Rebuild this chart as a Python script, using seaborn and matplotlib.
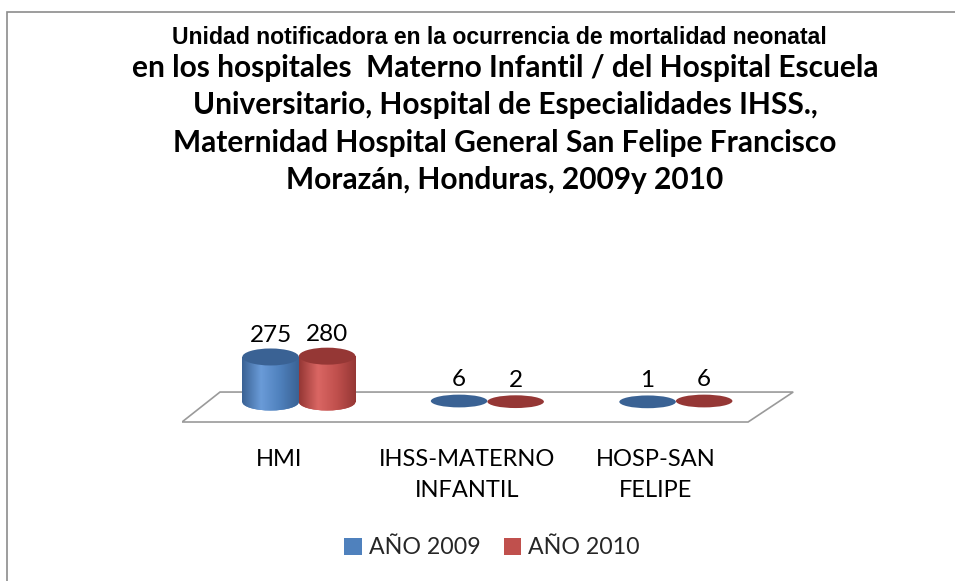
import numpy as np
import pandas as pd
import matplotlib
matplotlib.use("Agg")
import matplotlib.pyplot as plt
import seaborn as sns
from matplotlib.patches import Ellipse, Polygon, Rectangle, Patch
from matplotlib.colors import LinearSegmentedColormap
import matplotlib.transforms as mtransforms

# ---- data ----
categories = ["HMI", "IHSS-MATERNO\nINFANTIL", "HOSP-SAN\nFELIPE"]
series_names = ["AÑO 2009", "AÑO 2010"]
values_2009 = [275, 6, 1]
values_2010 = [280, 2, 6]

title_line1 = "Unidad notificadora en la ocurrencia de mortalidad neonatal"
title_rest = ("en los hospitales  Materno Infantil / del Hospital Escuela\n"
              "Universitario, Hospital de Especialidades IHSS.,\n"
              "Maternidad Hospital General San Felipe Francisco\n"
              "Morazán, Honduras, 2009y 2010")

df = pd.DataFrame({
    "cat": categories * 2,
    "serie": [series_names[0]] * 3 + [series_names[1]] * 3,
    "val": values_2009 + values_2010,
})

sns.set_theme(style="white")
plt.rcParams["font.family"] = ["Lato", "DejaVu Sans"]
CAL = ["Lato", "DejaVu Sans"]

body_colors = {"AÑO 2009": "#4F81BD", "AÑO 2010": "#C0504D"}
dark_colors = {"AÑO 2009": "#3A6294", "AÑO 2010": "#953735"}
light_colors = {"AÑO 2009": "#6A9BD8", "AÑO 2010": "#DA6663"}

W, H = 955, 581
fig = plt.figure(figsize=(W / 100, H / 100), dpi=100)
fig.patch.set_facecolor("white")

# outer chart frame
fig.add_artist(Rectangle((7 / W, -0.01), 1.05, 1 - 12 / H + 0.01,
                         transform=fig.transFigure, fill=False,
                         edgecolor="#8C8C8C", linewidth=1.2))

ax_l, ax_r, ax_t, ax_b = 182, 800, 300, 430
ax = fig.add_axes([ax_l / W, 1 - ax_b / H, (ax_r - ax_l) / W, (ax_b - ax_t) / H])
ax.set_facecolor("none")

sns.barplot(data=df, x="cat", y="val", hue="serie", order=categories,
            hue_order=series_names, palette=body_colors, width=0.6,
            saturation=1, ax=ax, legend=False, zorder=3)

ax.set_xlim(-0.62, -0.62 + (ax_r - ax_l) / 188.5)
ax.set_ylim(-171, 623)
px_per_y = (ax_b - ax_t) / (623 + 171)

# floor parallelogram (axes coordinates)
floor = Polygon([(0, 0.0615), (0.0615, 0.292), (0.989, 0.292), (0.916, 0.0615)],
                closed=True, transform=ax.transAxes, facecolor="white",
                edgecolor="#9A9A9A", linewidth=1.2, zorder=1)
ax.add_patch(floor)

ell_h = 17 / px_per_y
grad = np.linspace(0, 1, 200).reshape(1, -1)

for container, name in zip(ax.containers, series_names):
    cmap = LinearSegmentedColormap.from_list(
        name, [dark_colors[name], light_colors[name], body_colors[name], dark_colors[name]])
    for bar in container:
        x0, w, h = bar.get_x(), bar.get_width(), bar.get_height()
        cx = x0 + w / 2
        if h > 20:
            bar.set_edgecolor("none")
            bot = Ellipse((cx, 0), w, ell_h, facecolor=body_colors[name],
                          edgecolor="none", zorder=2.9)
            ax.add_patch(bot)
            im = ax.imshow(grad, cmap=cmap, aspect="auto",
                           extent=(x0, x0 + w, -ell_h / 2, h), zorder=3.1)
            im.set_clip_path(Rectangle((x0, 0), w, h, transform=ax.transData))
            bot_im = ax.imshow(grad, cmap=cmap, aspect="auto",
                               extent=(x0, x0 + w, -ell_h / 2, h), zorder=3.0)
            bot_im.set_clip_path(bot)
            top = Ellipse((cx, h), w, ell_h, facecolor=dark_colors[name],
                          edgecolor="none", zorder=3.3)
            ax.add_patch(top)
        else:
            bar.set_visible(False)
            flat = Ellipse((cx, h), w, ell_h * 0.75, facecolor=dark_colors[name],
                           edgecolor="none", zorder=3.3 + (0.1 if name == "AÑO 2010" else 0))
            ax.add_patch(flat)
    ax.bar_label(container, labels=[str(int(b.get_height())) for b in container],
                 padding=8, fontsize=17.5, color="black", zorder=5, family=CAL)

# axis cosmetics
for s in ax.spines.values():
    s.set_visible(False)
ax.set_yticks([])
ax.set_xlabel("")
ax.set_ylabel("")
ax.tick_params(axis="x", length=0, pad=13.5, labelsize=17)
offset = mtransforms.ScaledTranslation(-20 / 100, 0, fig.dpi_scale_trans)
for lbl in ax.get_xticklabels():
    lbl.set_family(CAL)
    lbl.set_linespacing(1.6)
    lbl.set_color("black")
    lbl.set_transform(lbl.get_transform() + offset)

# title
fig.text(499 / W, 1 - 38 / H, title_line1, ha="center", va="center",
         fontsize=16.6, fontweight="bold", color="black",
         family=["Liberation Sans", "DejaVu Sans"])
fig.text(505 / W, 1 - 124 / H, title_rest, ha="center", va="center",
         fontsize=21.5, fontweight="bold", linespacing=1.41, color="black",
         family=CAL)

# legend
handles = [Patch(facecolor=body_colors[n], edgecolor="none") for n in series_names]
fig.legend(handles, series_names, loc="center", bbox_to_anchor=(492 / W, 1 - 548 / H),
           ncol=2, frameon=False, handlelength=0.75, handleheight=0.75,
           handletextpad=0.3, columnspacing=1.0,
           prop={"family": CAL, "size": 16.7})

fig.savefig("out.png", dpi=100, facecolor="white")
